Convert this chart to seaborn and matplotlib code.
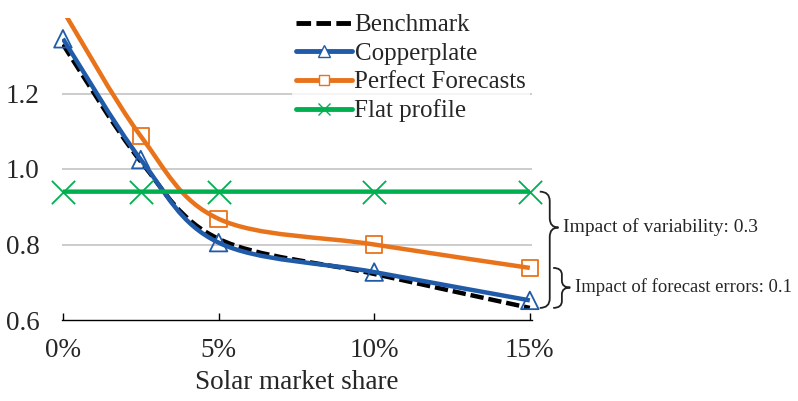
import numpy as np
import matplotlib
matplotlib.use("Agg")
import matplotlib.pyplot as plt
from matplotlib.path import Path
from matplotlib.patches import PathPatch
from matplotlib.lines import Line2D
import seaborn as sns

# values
share = [0, 2.5, 5, 10, 15]          # solar market share, %
benchmark = [1.33, 1.02, 0.815, 0.722, 0.632]
copperplate = [1.345, 1.025, 0.805, 0.727, 0.652]
perfect_fc = [1.42, 1.087, 0.868, 0.800, 0.738]
flat_profile = [0.94, 0.94, 0.94, 0.94, 0.94]

tick_pos = [0, 5, 10, 15]
tick_lab = ["0%", "5%", "10%", "15%"]
y_ticks = [0.6, 0.8, 1.0, 1.2]

blue = "#1f5ba8"
orange = "#e8731a"
green = "#00b050"
dash = (0, (3.0, 1.1))


def smooth_path(x, y):
    # excel-like smoothed line: bezier segments through the data points
    p = np.column_stack([x, y]).astype(float)
    ext = np.vstack([p[0], p, p[-1]])
    verts = [tuple(p[0])]
    codes = [Path.MOVETO]
    for i in range(len(p) - 1):
        c1 = ext[i + 1] + (ext[i + 2] - ext[i]) / 6.0
        c2 = ext[i + 2] - (ext[i + 3] - ext[i + 1]) / 6.0
        verts += [tuple(c1), tuple(c2), tuple(p[i + 1])]
        codes += [Path.CURVE4] * 3
    return Path(verts, codes)


def brace(ax, x0, xs, xt, ytop, ybot, ytip, r=0.03):
    # right-pointing curly brace drawn in data coords outside the axes
    verts = [(x0, ytop), (xs, ytop), (xs, ytop - r),
             (xs, ytip + r), (xs, ytip), (xt, ytip),
             (xs, ytip), (xs, ytip - r),
             (xs, ybot + r), (xs, ybot), (x0, ybot)]
    codes = [Path.MOVETO, Path.CURVE3, Path.CURVE3,
             Path.LINETO, Path.CURVE3, Path.CURVE3,
             Path.CURVE3, Path.CURVE3,
             Path.LINETO, Path.CURVE3, Path.CURVE3]
    ax.add_patch(PathPatch(Path(verts, codes), fill=False, lw=1.3,
                           ec="#222222", clip_on=False))


sns.set_theme(style="white")
plt.rcParams["font.family"] = ["Liberation Serif", "DejaVu Serif"]

fig = plt.figure(figsize=(7.98, 4.01), dpi=100)
ax = fig.add_axes([62 / 798, 81 / 401, 470 / 798, 302 / 401])

lw = 3.2
series = [
    (benchmark, "black", "Benchmark"),
    (copperplate, blue, "Copperplate"),
    (perfect_fc, orange, "Perfect Forecasts"),
    (flat_profile, green, "Flat profile"),
]

# grid first so the curves sit on top
for yv in y_ticks[1:]:
    ax.axhline(yv, color="#bfbfbf", lw=1.1, zorder=0)

for vals, col, name in series:
    ls = dash if name == "Benchmark" else "-"
    ax.add_patch(PathPatch(smooth_path(share, vals), fill=False, ec=col,
                           lw=lw, ls=ls, capstyle="butt", zorder=3))

sns.scatterplot(x=share, y=copperplate, marker="^", s=160, facecolors="none",
                edgecolor=blue, linewidth=1.3, ax=ax, zorder=4, clip_on=False)
# first orange point sits above the axis top, so its marker is not shown
sns.scatterplot(x=share[1:], y=perfect_fc[1:], marker="s", s=140,
                facecolors="none", edgecolor=orange, linewidth=1.3, ax=ax,
                zorder=4, clip_on=False)
sns.scatterplot(x=share, y=flat_profile, marker="x", s=280, color=green,
                linewidth=1.3, ax=ax, zorder=4, clip_on=False)

ax.set_xlim(-0.03, 15.07)
ax.set_ylim(0.6, 1.4)
ax.set_xticks(tick_pos)
ax.set_xticklabels(tick_lab)
ax.set_yticks(y_ticks)
ax.set_yticklabels([f"{v:.1f}" for v in y_ticks])
ax.tick_params(axis="x", direction="in", length=5, width=1, color="black",
               bottom=True, labelsize=19.5, pad=13)
ax.tick_params(axis="y", length=0, labelsize=19.5, pad=16)
for side in ["top", "right", "left"]:
    ax.spines[side].set_visible(False)
ax.spines["bottom"].set_color("black")
ax.spines["bottom"].set_linewidth(1)
ax.set_xlabel("Solar market share", fontsize=19.5, labelpad=5)
ax.set_ylabel("")

handles = [
    Line2D([], [], color="black", lw=3.5, ls=dash),
    Line2D([], [], color=blue, lw=3.5, marker="^", ms=8, mfc="white",
           mec=blue, mew=1.0),
    Line2D([], [], color=orange, lw=3.5, marker="s", ms=7, mfc="white",
           mec=orange, mew=1.0),
    Line2D([], [], color=green, lw=3.5, marker="x", ms=9, mec=green,
           mew=1.0),
]
leg = fig.legend(handles, [s[2] for s in series], loc="upper left",
                 bbox_to_anchor=(292 / 798, 0.975), frameon=True, fontsize=18,
                 handlelength=2.25, handletextpad=0.1, labelspacing=0.24,
                 borderpad=0.15, borderaxespad=0.0, fancybox=False)
leg.get_frame().set_facecolor("white")
leg.get_frame().set_edgecolor("none")
leg.set_zorder(10)

# variability / forecast error braces
brace(ax, 15.32, 15.64, 15.92, flat_profile[-1], 0.632, 0.845, r=0.025)
brace(ax, 15.75, 16.03, 16.3, perfect_fc[-1], 0.632, 0.686, r=0.018)
ax.text(16.06, 0.845, "Impact of variability: 0.3", fontsize=14,
        va="center", ha="left")
ax.text(16.45, 0.686, "Impact of forecast errors: 0.1", fontsize=13.4,
        va="center", ha="left")

fig.savefig("out.png", dpi=100)
